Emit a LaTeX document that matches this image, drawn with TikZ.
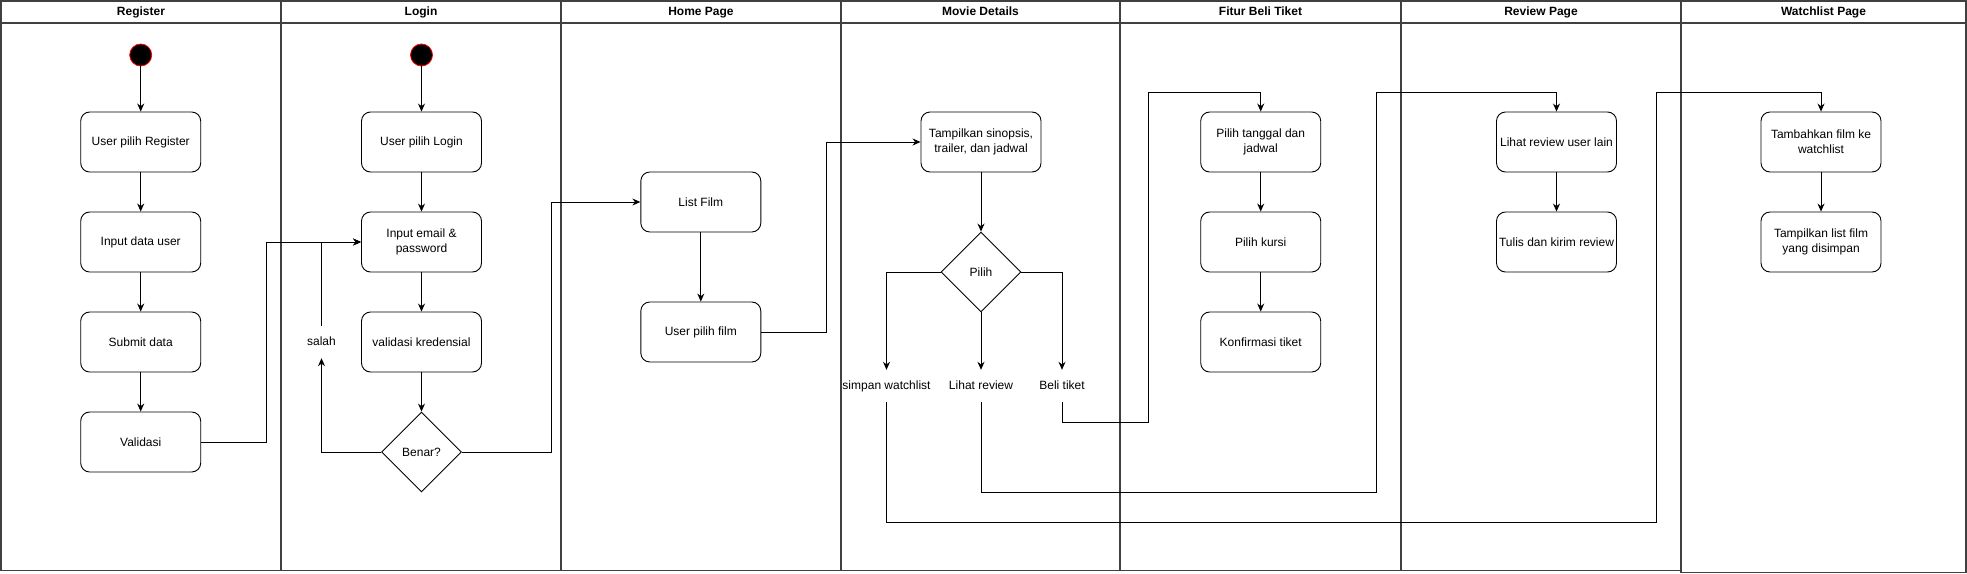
\documentclass[tikz,border=0pt]{standalone}
\usepackage{fontspec}
\setmainfont{Liberation Sans}
\usetikzlibrary{arrows.meta,shapes.geometric,positioning}

\begin{document}
\begin{tikzpicture}[x=1pt, y=-1pt, >={Stealth[length=8pt,width=7pt]},
  font=\fontsize{12}{15}\selectfont,
  lane/.style={draw=black!75, line width=1.3pt},
  lane title/.style={font=\fontsize{12}{15}\selectfont\bfseries,
    text height=8.6pt, text depth=2.4pt},
  activity/.style={draw, line width=0.9pt, rounded corners=9pt, align=center,
    minimum width=120pt, minimum height=60pt, inner sep=2pt},
  decision/.style={draw, line width=0.9pt, diamond, aspect=1, inner sep=0pt,
    minimum width=80pt, minimum height=80pt},
  start state/.style={circle, fill=black, draw=red, line width=0.8pt,
    minimum size=22pt, inner sep=0pt},
  guard/.style={minimum height=32pt, inner sep=0pt, text height=8.6pt, text depth=2.4pt},
  flow/.style={->, line width=0.9pt}]

\useasboundingbox (0,0) rectangle (1967,573);

\foreach \xl/\xr/\yb/\t [count=\i] in {1/281/570.5/Register, 281/561/570.5/Login,
    561/841/570.5/Home Page, 841/1120/570.5/Movie Details,
    1120/1401/570.5/Fitur Beli Tiket, 1401/1681/570.5/Review Page,
    1681/1966/572.5/Watchlist Page}
{
  \draw [lane] (\xl,1) rectangle (\xr,\yb);
  \draw [lane] (\xl,23) -- (\xr,23);
  \node [lane title] (lane-\i) at ({(\xl+\xr)/2},12) {\t};
}

% register and login
\node [start state] (reg-0) at (140.7,55) {};
\node [start state] (login-0) at (421.5,55) {};

\foreach \t [count=\y] in {User pilih Register, Input data user, Submit data, Validasi}
  \node [activity] (reg-\y) at (140.7,42+\y*100) {\t};

\foreach \t [count=\y] in {User pilih Login, {Input email \&\\password}, validasi kredensial}
  \node [activity] (login-\y) at (421.5,42+\y*100) {\t};

\node [decision] (login-4) at (421.5,452) {Benar?};
\node [guard] (salah) at (321.5,342) {salah};

% home page and movie details
\node [activity] (home-1) at (700.8,202) {List Film};
\node [activity] (home-2) at (700.8,332) {User pilih film};

\node [activity] (movie-1) at (981,142) {Tampilkan sinopsis,\\trailer, dan jadwal};
\node [decision] (movie-2) at (981,272) {Pilih};

\node [guard] (simpan) at (886.5,386) {simpan watchlist};
\node [guard] (lihat) at (981,386) {Lihat review};
\node [guard] (beli) at (1062,386) {Beli tiket};

% tiket, review, watchlist
\foreach \t [count=\y] in {{Pilih tanggal dan\\jadwal}, Pilih kursi, Konfirmasi tiket}
  \node [activity] (tix-\y) at (1260.7,42+\y*100) {\t};

\foreach \t [count=\y] in {Lihat review user lain, Tulis dan kirim review}
  \node [activity] (rev-\y) at (1556.5,42+\y*100) {\t};

\foreach \t [count=\y] in {{Tambahkan film ke\\watchlist}, {Tampilkan list film\\yang disimpan}}
  \node [activity] (watch-\y) at (1821,42+\y*100) {\t};

% connectors
\foreach \i [count=\j] in {0,...,3}
  \draw [flow] (reg-\i) -- (reg-\j);

\foreach \i [count=\j] in {0,...,3}
  \draw [flow] (login-\i) -- (login-\j);

\draw [flow] (reg-4.east) -- (266.4,442) |- (login-2.west);
\draw [flow] (login-4.west) -| (salah.south);
\draw [flow] (salah.north) |- (login-2.west);
\draw [flow] (login-4.east) -- (551,452) |- (home-1.west);

\draw [flow] (home-1) -- (home-2);
\draw [flow] (home-2.east) -- (826.4,332) |- (movie-1.west);

\draw [flow] (movie-1) -- (movie-2);
\draw [flow] (movie-2.west) -| (simpan.north);
\draw [flow] (movie-2.south) -- (lihat.north);
\draw [flow] (movie-2.east) -| (beli.north);

\draw [flow] (beli.south) |- (1148.5,422.3) -- (1148.5,92.3) -| (tix-1.north);
\draw [flow] (lihat.south) |- (1376.4,492.3) -- (1376.4,92.3) -| (rev-1.north);
\draw [flow] (simpan.south) |- (1656.7,522.3) -- (1656.7,92.3) -| (watch-1.north);

\foreach \i [count=\j from 2] in {1,2}
  \draw [flow] (tix-\i) -- (tix-\j);
\draw [flow] (rev-1) -- (rev-2);
\draw [flow] (watch-1) -- (watch-2);

\end{tikzpicture}
\end{document}
